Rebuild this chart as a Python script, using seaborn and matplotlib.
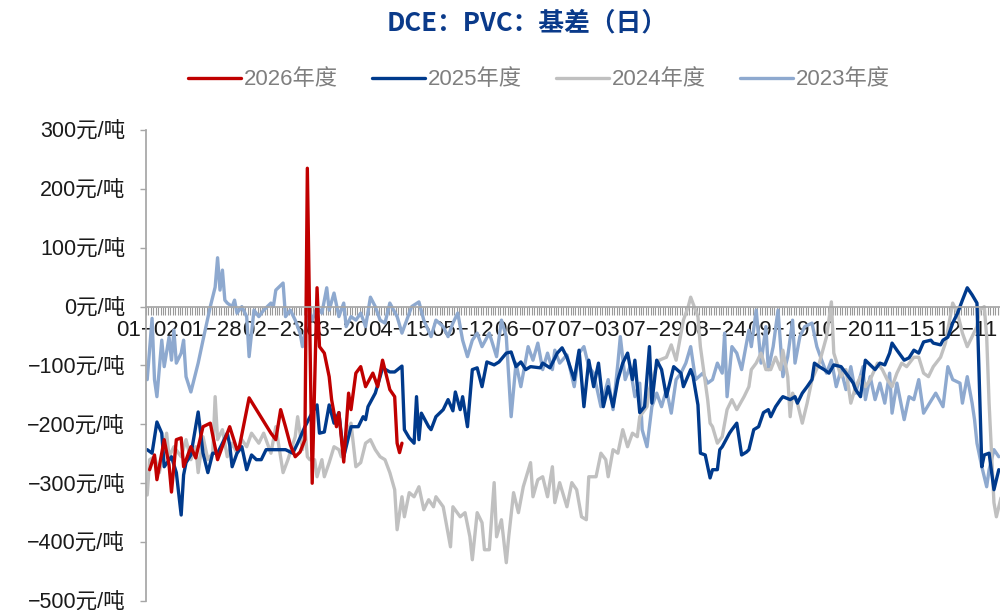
import numpy as np
import pandas as pd
import matplotlib
matplotlib.use('Agg')
import matplotlib.pyplot as plt
import seaborn as sns

# category axis: calendar days (leap year) without 05-01 and 10-01..10-05
days = pd.date_range('2024-01-02', '2024-12-31')
skip = ['05-01', '10-01', '10-02', '10-03', '10-04', '10-05']
categories = [d.strftime('%m-%d') for d in days if d.strftime('%m-%d') not in skip]
label_step = 26
tick_labels = categories[::label_step]

x_2026 = [1, 3, 4, 7, 9, 10, 12, 14, 15, 18,
          20, 23, 26, 29, 32, 34, 37, 38, 42, 51,
          53, 55, 57, 59, 61, 63, 65, 66, 68, 70,
          71, 73, 75, 76, 78, 79, 81, 83, 84, 86,
          88, 90, 93, 95, 97, 99, 100, 102, 103, 104,
          105]
y_2026 = [-277, -252, -294, -226, -269, -315, -226, -223, -272, -238,
          -257, -204, -198, -260, -226, -204, -243, -238, -155, -215,
          -226, -175, -204, -235, -255, -247, -226, 235, -300, 32,
          -68, -79, -119, -158, -204, -180, -264, -147, -175, -113,
          -102, -136, -113, -136, -91, -124, -141, -153, -232, -248,
          -232]

x_2025 = [0, 2, 4, 6, 7, 10, 12, 14, 15, 16,
          18, 21, 23, 25, 27, 29, 33, 34, 35, 37,
          39, 41, 43, 45, 47, 49, 53, 57, 60, 62,
          65, 68, 70, 71, 73, 75, 77, 79, 81, 84,
          87, 89, 90, 91, 94, 96, 97, 100, 102, 105,
          106, 108, 110, 111, 112, 113, 116, 117, 119, 122,
          124, 126, 127, 129, 130, 132, 134, 136, 138, 140,
          143, 145, 148, 150, 152, 154, 156, 158, 162, 163,
          166, 169, 171, 173, 176, 178, 180, 182, 184, 186,
          188, 190, 192, 194, 196, 198, 200, 201, 203, 205,
          207, 208, 210, 212, 214, 217, 220, 221, 224, 225,
          227, 228, 230, 232, 233, 235, 236, 237, 240, 241,
          243, 245, 247, 248, 250, 252, 254, 256, 257, 259,
          261, 262, 265, 267, 268, 270, 272, 274, 275, 277,
          279, 281, 283, 286, 288, 290, 291, 292, 294, 296,
          298, 300, 302, 304, 306, 307, 309, 312, 314, 316,
          318, 320, 323, 324, 327, 328, 330, 332, 334, 336,
          338, 340, 342, 343, 344, 345, 347, 349, 351]
y_2025 = [-243, -249, -196, -215, -272, -255, -282, -354, -286, -265,
          -252, -179, -249, -282, -249, -249, -215, -235, -272, -249,
          -238, -277, -252, -260, -260, -243, -243, -243, -249, -232,
          -204, -180, -167, -215, -213, -167, -198, -180, -255, -204,
          -204, -187, -192, -170, -147, -119, -104, -111, -111, -101,
          -209, -223, -232, -153, -226, -181, -204, -209, -187, -175,
          -158, -177, -145, -175, -153, -204, -107, -104, -136, -94,
          -99, -94, -79, -77, -102, -94, -107, -102, -104, -96,
          -104, -79, -70, -86, -124, -74, -170, -91, -136, -96,
          -170, -136, -170, -124, -96, -79, -124, -91, -180, -170,
          -68, -164, -91, -107, -153, -102, -113, -136, -107, -119,
          -167, -249, -252, -291, -277, -277, -243, -238, -215, -209,
          -198, -252, -247, -243, -209, -204, -180, -175, -187, -170,
          -158, -153, -158, -153, -164, -147, -136, -124, -96, -102,
          -107, -113, -99, -102, -113, -124, -130, -141, -153, -91,
          -99, -107, -96, -99, -79, -62, -74, -91, -87, -74,
          -79, -60, -57, -62, -65, -57, -52, -28, -11, 11,
          32, 20, 6, -136, -272, -252, -249, -311, -277]

x_2024 = [0, 1, 3, 5, 8, 9, 11, 14, 16, 18,
          20, 21, 23, 25, 27, 28, 29, 31, 33, 35,
          37, 39, 41, 43, 46, 48, 51, 53, 56, 58,
          61, 62, 64, 65, 66, 67, 69, 70, 72, 73,
          75, 77, 79, 80, 82, 84, 86, 88, 90, 92,
          94, 96, 98, 100, 102, 103, 105, 106, 108, 110,
          112, 114, 116, 118, 119, 122, 125, 126, 129, 131,
          133, 134, 136, 138, 139, 141, 143, 144, 146, 148,
          149, 151, 153, 155, 158, 159, 161, 163, 165, 167,
          168, 170, 173, 175, 177, 179, 181, 182, 185, 187,
          189, 190, 192, 194, 196, 198, 200, 202, 203, 206,
          207, 209, 211, 214, 216, 218, 221, 223, 224, 226,
          227, 228, 231, 232, 233, 235, 237, 239, 241, 243,
          246, 248, 249, 251, 253, 255, 257, 259, 261, 262,
          264, 265, 266, 268, 270, 272, 274, 277, 280, 282,
          283, 286, 288, 290, 292, 294, 296, 298, 301, 303,
          305, 307, 309, 311, 313, 316, 318, 320, 322, 324,
          327, 329, 331, 332, 334, 336, 338, 340, 342, 343,
          345, 346, 347, 349, 350, 352]
y_2024 = [-320, -260, -255, -282, -215, -255, -238, -255, -226, -260,
          -238, -282, -221, -260, -249, -153, -226, -209, -255, -232,
          -249, -226, -238, -215, -232, -215, -249, -204, -282, -260,
          -221, -187, -243, -204, -255, -260, -260, -289, -260, -289,
          -265, -238, -243, -255, -215, -198, -272, -265, -232, -226,
          -243, -255, -260, -282, -311, -379, -323, -357, -316, -323,
          -306, -345, -328, -340, -323, -340, -408, -340, -357, -350,
          -391, -430, -350, -367, -413, -413, -299, -391, -362, -435,
          -391, -316, -350, -306, -265, -323, -294, -289, -323, -272,
          -333, -299, -340, -299, -311, -357, -362, -289, -289, -249,
          -260, -289, -243, -249, -209, -238, -215, -221, -187, -170,
          -141, -113, -91, -86, -65, -91, -23, 0, 16, -6,
          -17, -68, -158, -198, -204, -232, -221, -175, -158, -175,
          -153, -136, -107, -96, -79, -107, -107, -86, -107, -74,
          -119, -187, -147, -164, -198, -164, -124, -96, -51, 8,
          -79, -119, -107, -164, -136, -119, -136, -124, -96, -107,
          -124, -136, -113, -96, -102, -86, -86, -113, -119, -102,
          -86, -62, -17, 6, -11, -45, -68, -51, -34, -6,
          0, -51, -164, -333, -357, -323]

x_2023 = [0, 2, 3, 4, 6, 7, 9, 10, 11, 12,
          14, 15, 16, 18, 21, 23, 26, 28, 29, 30,
          31, 32, 33, 35, 36, 37, 39, 41, 42, 44,
          46, 48, 51, 52, 53, 56, 57, 59, 61, 63,
          64, 66, 67, 68, 70, 72, 74, 75, 77, 79,
          81, 82, 84, 86, 88, 90, 92, 94, 96, 98,
          100, 103, 105, 109, 112, 114, 117, 119, 122, 124,
          126, 128, 130, 132, 134, 136, 138, 141, 144, 146,
          148, 150, 152, 154, 157, 159, 161, 163, 165, 167,
          168, 170, 173, 176, 178, 180, 182, 184, 187, 190,
          192, 194, 195, 197, 199, 201, 203, 204, 206, 208,
          210, 212, 214, 216, 218, 220, 222, 224, 226, 229,
          231, 233, 235, 237, 238, 239, 241, 243, 245, 246,
          248, 249, 251, 253, 255, 256, 258, 260, 262, 264,
          266, 267, 269, 271, 274, 276, 278, 280, 282, 284,
          286, 288, 290, 292, 295, 296, 298, 300, 302, 304,
          306, 307, 309, 312, 314, 316, 318, 320, 322, 325,
          328, 330, 332, 335, 336, 338, 340, 341, 342, 344,
          346, 347, 349, 351]
y_2023 = [-124, -20, -124, -153, -57, -102, -52, -91, -40, -96,
          -79, -57, -119, -145, -96, -57, 0, 33, 83, 28,
          62, 11, 6, 0, 11, -11, 0, -17, -85, -6,
          -17, -6, 6, 0, 28, 40, -17, -6, -23, -45,
          -68, -23, -11, -23, 0, -11, 32, -6, 23, -17,
          6, -34, -17, -23, -11, -34, 16, 0, -23, -28,
          6, -17, -45, 0, 8, -23, -51, -23, -34, -51,
          -28, -11, -57, -85, -57, -45, -68, -45, -85, -23,
          -51, -187, -96, -136, -68, -91, -62, -107, -79, -107,
          -74, -96, -82, -136, -79, -68, -102, -113, -170, -124,
          -175, -96, -51, -124, -102, -153, -130, -209, -238, -170,
          -147, -170, -141, -181, -124, -113, -96, -68, -124, -113,
          -130, -124, -96, -113, -45, -153, -68, -79, -107, -85,
          -40, -68, -6, -96, -34, -107, -68, -6, -119, -85,
          -23, -96, -51, -34, -28, -68, -91, -113, -91, -136,
          -107, -141, -102, -147, -102, -158, -119, -158, -130, -164,
          -113, -181, -130, -192, -153, -158, -124, -181, -167, -147,
          -170, -102, -124, -130, -164, -119, -164, -192, -232, -272,
          -306, -277, -243, -255]

series = [
    ('2023年度', x_2023, y_2023, '#8EA9CF'),
    ('2024年度', x_2024, y_2024, '#C0C0C0'),
    ('2025年度', x_2025, y_2025, '#003A8C'),
    ('2026年度', x_2026, y_2026, '#C00000'),
]

sns.set_theme(style='white')
plt.rcParams['font.family'] = ['Liberation Sans', 'Noto Sans CJK SC']
plt.rcParams['axes.unicode_minus'] = True

fig = plt.figure(figsize=(10, 6.1), dpi=100)
ax = fig.add_axes([0.146, 0.0148, 0.871, 0.7721])

for name, xs, ys, col in series:
    df = pd.DataFrame({'idx': xs, 'val': ys})
    sns.lineplot(data=df, x='idx', y='val', ax=ax, color=col, linewidth=2.4,
                 estimator=None, sort=False, label=name)

ax.set_xlim(-0.5, len(categories) - 0.5)
ax.set_ylim(-500, 300)
ax.set_xlabel('')
ax.set_ylabel('')

# y axis
yt = list(range(-500, 301, 100))
ax.set_yticks(yt)
ax.set_yticklabels([f'{v}元/吨'.replace('-', '\u2212') for v in yt], fontsize=15.5, color='#1a1a1a')
ax.tick_params(axis='y', length=4, width=1, color='#A6A6A6', pad=11, left=True)

# x axis sits at zero
ax.spines['bottom'].set_position(('data', 0))
ax.spines['bottom'].set_color('#A6A6A6')
ax.spines['left'].set_color('#A6A6A6')
ax.spines['top'].set_visible(False)
ax.spines['right'].set_visible(False)
ax.set_xticks(range(0, len(categories), label_step))
ax.set_xticklabels([t.replace('-', '\u2212') for t in tick_labels], fontsize=16, color='#1a1a1a')
ax.set_xticks(np.arange(-0.5, len(categories), 1), minor=True)
ax.tick_params(axis='x', which='major', length=0, pad=10, bottom=True)
ax.tick_params(axis='x', which='minor', length=6, width=0.8, color='#9A9A9A',
               direction='out', bottom=True)

handles, labels = ax.get_legend_handles_labels()
ax.legend(handles[::-1], labels[::-1], ncol=4, frameon=False, fontsize=16,
          loc='center', bbox_to_anchor=(0.539, 0.869), bbox_transform=fig.transFigure,
          handlelength=2.4, handletextpad=0.15, columnspacing=1.5,
          labelcolor='#7F7F7F')

fig.text(0.527, 0.963, 'DCE：PVC：基差（日）', ha='center', va='center',
         fontsize=18.5, fontweight='bold', color='#0A3A8A',
         family=['Noto Sans CJK SC'])

fig.savefig('out.png', dpi=100)
